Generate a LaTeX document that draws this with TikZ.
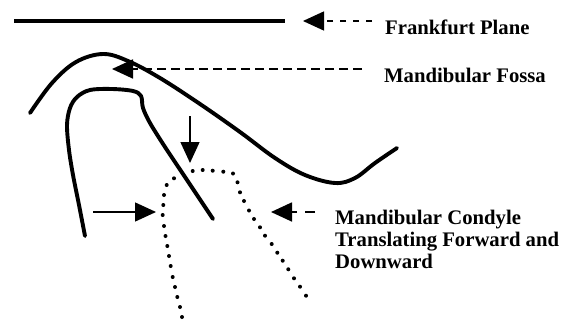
\documentclass[tikz,border=0pt]{standalone}
\usepackage{fontspec}
\setmainfont{Liberation Serif}
\usetikzlibrary{arrows.meta}
\begin{document}
\begin{tikzpicture}[x=1pt,y=-1pt,
  bone/.style={line width=3.9pt,line cap=round,line join=round},
  dotmark/.style={fill=black},
  pointer/.style={line width=1.4pt,-{Triangle[length=21pt,width=19pt]}},
  label/.style={font=\bfseries\fontsize{20.7}{22}\selectfont,inner sep=0pt,align=left}]
\useasboundingbox (0,0) rectangle (575,322);

% Frankfurt plane
\coordinate (fpL) at (14,21);
\coordinate (fpR) at (285,21);
\draw[line width=4.2pt] (fpL) -- (fpR);

% mandibular fossa (articular eminence outline)
\draw[bone] plot[smooth,tension=0.6] coordinates {
  (30,113) (52,83) (76,62) (103,54) (128,61) (160,78) (200,104)
  (240,132) (275,158) (305,175) (335,183) (355,178) (375,163) (397,148)};

% condyle in the closed position
\draw[bone] plot[smooth,tension=0.55] coordinates {
  (85,236) (79,205) (73,175) (69,150) (67,125) (70,108) (77,97)
  (90,90) (112,89) (133,91) (141,96) (143,108) (150,123) (165,147)
  (181,171) (197,195) (213,219)};

% condyle translated forward and downward (dotted outline)
\foreach \p in {(182,317),(180,307),(177.3,297),(175,287),(172.7,277),
  (170.7,266),(169,256),(167.3,246),(165.5,236),(164,226),(162.7,215),
  (163.3,205),(164,195),(166.7,185),(174,178.3),(192.7,171),(202.7,170),
  (212.7,170.7),(223.3,171.7),(233,173.5),(237.5,182.3),(240,192.3),
  (244,201),(249,210.5),(254,219),(260,227.3),(265,235.7),(271.7,244),
  (277.3,252.7),(282.7,260.7),(288.3,269.3),(294,278.3),(300,286.7),
  (306,295.7)}
  \fill[dotmark] \p circle (2pt);

% labels
\node[label,anchor=base west] (fp) at (385,34) {Frankfurt Plane};
\node[label,anchor=base west] (mf) at (384,82) {Mandibular Fossa};
\node[label,anchor=north west] (mc) at (335,209.5)
  {Mandibular Condyle\\Translating Forward and\\Downward};

% leader arrows
\coordinate (fpA) at (372,21);  \coordinate (fpT) at (303,21);
\coordinate (mfA) at (362,69);  \coordinate (mfT) at (112,69);
\coordinate (mcA) at (315,212); \coordinate (mcT) at (271,212);
\coordinate (dnA) at (190,116); \coordinate (dnT) at (190,163);
\coordinate (rtA) at (93,212);  \coordinate (rtT) at (156,212);
\draw[pointer,dash pattern=on 6pt off 7pt] (fpA) -- (fpT);
\draw[pointer,line width=1.8pt,dash pattern=on 9pt off 5pt] (mfA) -- (mfT);
\draw[pointer,line width=1.8pt,dash pattern=on 10pt off 8pt] (mcA) -- (mcT);
\draw[pointer] (dnA) -- (dnT);
\draw[pointer] (rtA) -- (rtT);
\end{tikzpicture}
\end{document}
